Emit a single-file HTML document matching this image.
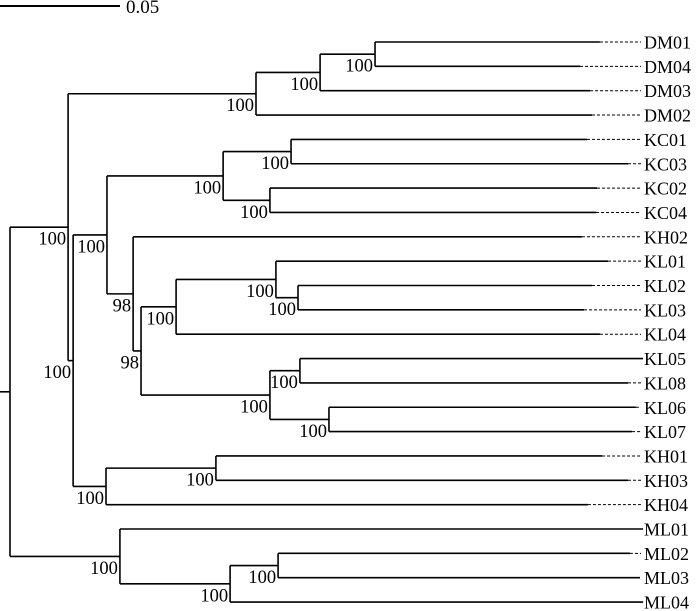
<!DOCTYPE html>
<html><head><meta charset="utf-8"><style>
html,body{margin:0;padding:0;background:#fff;}
svg{display:block;font-family:"Liberation Serif",serif;}
</style></head><body>
<svg id="tree" width="700" height="611" viewBox="0 0 700 611" xmlns="http://www.w3.org/2000/svg">
<g>
<line x1="0" y1="6" x2="120" y2="6" stroke="#000" stroke-width="2"/>
<text x="126" y="13" font-size="19">0.05</text>
</g>
</svg>
<script>
// Node: [name, cumulative distance, bootstrap, children]
const tree = ["root", 0, "", [
  ["A", 0.0242, "100", [
    ["DMc", 0.1025, "100", [
      ["DMs", 0.1292, "100", [
        ["DMt", 0.1521, "100", [["DM01", 0.2458], ["DM04", 0.2375]]],
        ["DM03", 0.2417]]],
      ["DM02", 0.2425]]],
    ["B", 0.0263, "100", [
      ["C", 0.0404, "100", [
        ["KC", 0.0888, "100", [
          ["KCa", 0.1171, "100", [["KC01", 0.2404], ["KC03", 0.2575]]],
          ["KCb", 0.1083, "100", [["KC02", 0.2446], ["KC04", 0.2442]]]]],
        ["D", 0.0513, "98", [
          ["KH02", 0.2383],
          ["E", 0.0546, "98", [
            ["F", 0.0692, "100", [
              ["H", 0.1108, "100", [
                ["KL01", 0.2492],
                ["I", 0.12, "100", [["KL02", 0.2425], ["KL03", 0.2392]]]]],
              ["KL04", 0.2458]]],
            ["G", 0.1083, "100", [
              ["J", 0.1208, "100", [["KL05", 0.2638], ["KL08", 0.2575]]],
              ["K", 0.1329, "100", [["KL06", 0.2608], ["KL07", 0.2592]]]]]]]]]]],
      ["KH", 0.04, "100", [
        ["KHs", 0.0858, "100", [["KH01", 0.2467], ["KH03", 0.2575]]],
        ["KH04", 0.2408]]]]]]],
  ["ML", 0.0458, "100", [
    ["ML01", 0.2638],
    ["MLs", 0.0917, "100", [
      ["MLt", 0.1117, "100", [["ML02", 0.2583], ["ML03", 0.2625]]],
      ["ML04", 0.2638]]]]]]];
const scaleUnit = 0.05;

const svg = document.getElementById('tree');
const NS = 'http://www.w3.org/2000/svg';
const x0 = 10, pxPerUnit = 120 / scaleUnit, yTop = 42, yStep = 24.35, dashEnd = 641, labelX = 644;
const X = d => x0 + d * pxPerUnit;
let leafIdx = 0;

function line(x1, y1, x2, y2, name, dashed) {
  const l = document.createElementNS(NS, 'line');
  l.setAttribute('x1', x1); l.setAttribute('y1', y1);
  l.setAttribute('x2', x2); l.setAttribute('y2', y2);
  l.setAttribute('stroke', '#000');
  l.setAttribute('stroke-width', dashed ? 1 : 1.6);
  if (dashed) l.setAttribute('stroke-dasharray', '3,2');
  
  
  svg.appendChild(l);
}
function text(x, y, s, anchor, size, name) {
  const t = document.createElementNS(NS, 'text');
  t.setAttribute('x', x); t.setAttribute('y', y);
  t.setAttribute('font-size', size);
  t.setAttribute('text-anchor', anchor);
  t.textContent = s;
  
  
  svg.appendChild(t);
}
function layout(node, parentX) {
  const [name, d, bs, kids] = node;
  const x = X(d);
  let y;
  if (!kids) {
    y = yTop + yStep * leafIdx++;
    line(parentX, y, x, y, 'branch-' + name.toLowerCase());
    if (x < dashEnd - 1) line(x, y, dashEnd, y, 'leader-' + name.toLowerCase(), true);
    text(labelX, y + 6.5, name, 'start', 18, 'taxon-label-' + name.toLowerCase());
  } else {
    const ys = kids.map(k => layout(k, x));
    y = (ys[0] + ys[ys.length - 1]) / 2;
    line(x, ys[0], x, ys[ys.length - 1], 'node-' + name.toLowerCase());
    line(parentX, y, x, y, 'branch-' + name.toLowerCase());
    if (bs) text(x - 2, y + 17.5, bs, 'end', 18.5, 'bootstrap-' + name.toLowerCase());
  }
  return y;
}
layout(tree, 0);
</script>
</body></html>
